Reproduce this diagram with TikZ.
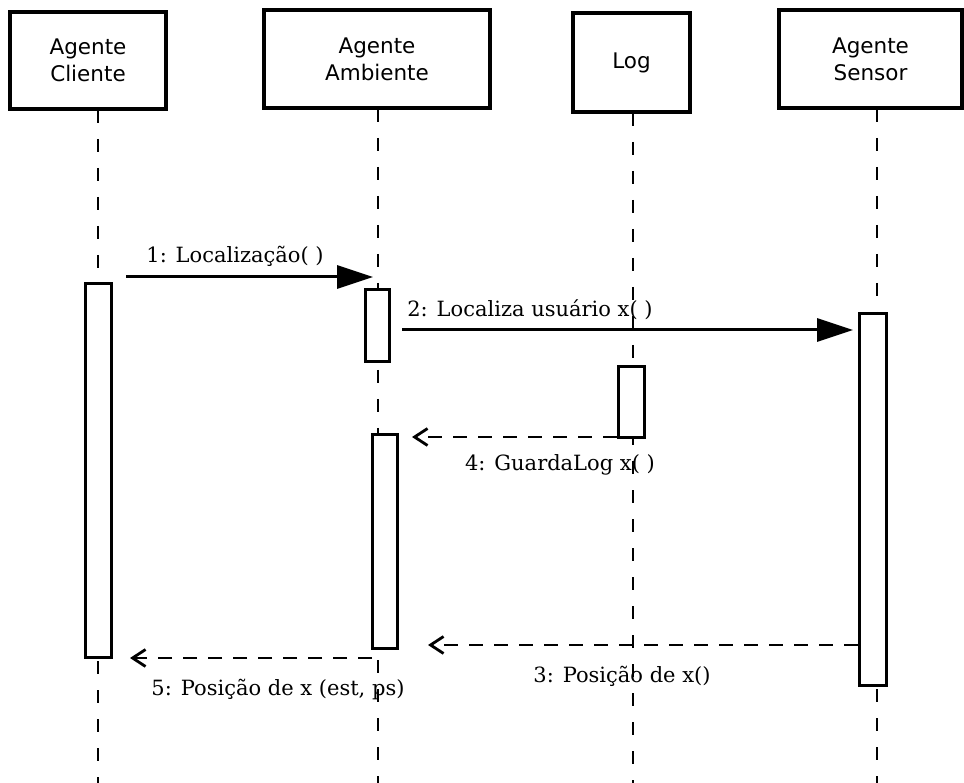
\documentclass[tikz,border=0pt]{standalone}
\usepackage{fontspec}
\setmainfont{DejaVu Serif}
\newfontfamily\headfont{DejaVu Sans}
\usetikzlibrary{arrows.meta}
\begin{document}
\begin{tikzpicture}[x=1pt,y=-1pt,
  head/.style={draw, line width=3.5pt, fill=white, align=center, inner sep=0pt,
    font=\headfont\fontsize{21.5}{27}\selectfont},
  actbar/.style={draw, line width=3pt, fill=white, inner sep=0pt},
  life/.style={line width=1.8pt, dash pattern=on 13pt off 16pt},
  call/.style={line width=3pt, -{Triangle[length=36pt,width=23pt]}},
  reply/.style={line width=2.8pt, dash pattern=on 14pt off 11pt,
    -{Straight Barb[length=13pt,width=17pt,line width=2.8pt]}},
  lbl/.style={font=\fontsize{21}{24}\selectfont, inner sep=0pt, anchor=base}
]
\useasboundingbox (0,0) rectangle (964,783);
\fill[white] (0,0) rectangle (964,783);

% heads
\node[head, minimum width=156pt, minimum height=97pt] (cliente) at (88,60.5) {Agente\\Cliente};
\node[head, minimum width=226pt, minimum height=98pt] (ambiente) at (377,59) {Agente\\Ambiente};
\node[head, minimum width=117pt, minimum height=99pt] (log) at (631.5,62.5) {Log};
\node[head, minimum width=183pt, minimum height=98pt] (sensor) at (870.5,59) {Agente\\Sensor};

% lifelines
\coordinate (clTop) at (98,110);   \coordinate (clBot) at (98,783);
\coordinate (amTop) at (378,109);  \coordinate (amBot) at (378,783);
\coordinate (lgTop) at (633,113);  \coordinate (lgBot) at (633,783);
\coordinate (snTop) at (877,109);  \coordinate (snBot) at (877,783);
\draw[life] (clTop) -- (clBot);
\draw[life] (amTop) -- (amBot);
\draw[life] (lgTop) -- (lgBot);
\draw[life] (snTop) -- (snBot);

% activation bars
\node[actbar, minimum width=26pt, minimum height=373pt] (clbar) at (98,470.5) {};
\node[actbar, minimum width=24pt, minimum height=72pt] (ambarA) at (377,326) {};
\node[actbar, minimum width=25pt, minimum height=213pt] (ambarB) at (384.5,541.5) {};
\node[actbar, minimum width=26pt, minimum height=71pt] (logbar) at (631,402.5) {};
\node[actbar, minimum width=27pt, minimum height=371pt] (snbar) at (872.5,499.5) {};

% message end points
\coordinate (m1s) at (126,277);  \coordinate (m1e) at (373,277);
\coordinate (m2s) at (402,330);  \coordinate (m2e) at (853,330);
\coordinate (m4e) at (412,437);
\coordinate (m3e) at (428,645);
\coordinate (m5s) at (372,658);  \coordinate (m5e) at (130,658);

% messages
\draw[call] (m1s) -- (m1e);
\node[lbl] (l1) at (235,263) {1: Localização( )};
\draw[call] (m2s) -- (m2e);
\node[lbl] (l2) at (530,317) {2: Localiza usuário x( )};
\draw[reply] (logbar.south west |- m4e) -- (m4e);
\node[lbl] (l4) at (560,470) {4: GuardaLog x( )};
\draw[reply] (snbar.west |- m3e) -- (m3e);
\node[lbl] (l3) at (622,682) {3: Posição de x()};
\draw[reply] (m5s) -- (m5e);
\node[lbl] (l5) at (278,695) {5: Posição de x (est, ps)};
\end{tikzpicture}
\end{document}
